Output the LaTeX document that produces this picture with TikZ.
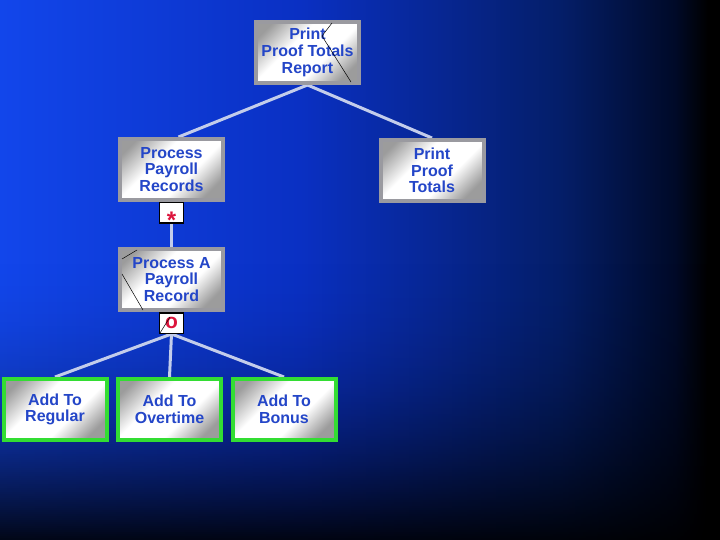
\documentclass[tikz,border=0pt]{standalone}
\usepackage{fontspec}
\setmainfont{Liberation Sans}
\usetikzlibrary{positioning,backgrounds}
\definecolor{bga}{HTML}{1246EB}
\definecolor{bgb}{HTML}{0A30C3}
\definecolor{bgc}{HTML}{041E69}
\definecolor{bgd}{HTML}{000A28}
\definecolor{txtblue}{HTML}{2446C8}
\definecolor{edge}{HTML}{9A9AA0}
\definecolor{boxgray}{HTML}{9C9C9C}
\definecolor{leafgreen}{HTML}{33DD33}
\definecolor{tagred}{HTML}{DC143C}
\definecolor{linkgray}{HTML}{C3CDEB}
\pgfdeclarehorizontalshading{bgsweep}{540pt}{color(0pt)=(bga); color(300pt)=(bgb);
  color(560pt)=(bgc); color(675pt)=(bgd); color(708pt)=(black); color(720pt)=(black)}
\pgfdeclareverticalshading{sheen}{100bp}{color(0bp)=(boxgray); color(24bp)=(boxgray);
  color(40bp)=(white); color(60bp)=(white); color(78bp)=(boxgray); color(100bp)=(boxgray)}
\tikzset{
  proc/.style={rectangle, draw=edge, line width=4pt, shading=sheen, shading angle=45,
               minimum width=103pt, minimum height=61pt, inner sep=0pt,
               align=center, text=txtblue,
               font=\bfseries\fontsize{16}{16.7}\selectfont},
  leaf/.style={proc, draw=leafgreen},
  tag/.style={rectangle, draw=black, line width=1.5pt, fill=white,
              minimum width=24pt, minimum height=20.5pt, inner sep=0pt,
              text=tagred, font=\bfseries\fontsize{21}{21}\selectfont},
  link/.style={draw=linkgray, line width=3pt},
  scratch/.style={draw=black, line width=0.5pt}
}
\begin{document}
\begin{tikzpicture}[x=1pt, y=-1pt]
\useasboundingbox (0,0) rectangle (720,540);
\node[proc] (top) at (307.5,52.5) {Print\\Proof Totals\\Report};
\node[proc] (ppr) at (171.5,169.5) {Process\\Payroll\\Records};
\node[proc] (ppt) at (432,170.5) {Print\\Proof\\Totals};
\node[tag, below=0pt of ppr] (rep) {\smash{\raisebox{-16pt}{\fontsize{24}{24}\selectfont *}}};
\node[proc, below=23pt of rep] (one) {Process A\\Payroll\\Record};
\node[tag, below=0pt of one] (sel) {o};
\node[leaf] (reg) at (55,409.5) {Add To\\Regular};
\node[leaf, right=7.5pt of reg] (ovt) {Add To\\Overtime};
\node[leaf, right=7.5pt of ovt] (bon) {Add To\\Bonus};
\begin{scope}[on background layer]
  \node[inner sep=0pt, outer sep=0pt, anchor=north west] (bg) at (0,0)
    {\pgfuseshading{bgsweep}};
  % darker towards the bottom
  \foreach \y [evaluate=\y as \op using {0.9*((\y+1-250)/290)^2}]
    in {250,252,...,538}
    \fill[black, opacity=\op] (0,\y) rectangle (720,\y+2);
  \draw[link] (top.south) -- ([xshift=7pt]ppr.north);
  \draw[link] (top.south) -- (ppt.north);
  \draw[link] (rep.south) -- (one.north);
  \draw[link] (sel.south) -- (reg.north);
  \draw[link] (sel.south) -- (ovt.north);
  \draw[link] (sel.south) -- (bon.north);
\end{scope}
% stray pen marks
\draw[scratch] (332,23) -- (322,36) -- (351,82);
\draw[scratch] (137,250) -- (122,259);
\draw[scratch] (122,274) -- (143,310);
\draw[scratch] (160,333) -- (170,317);
\end{tikzpicture}
\end{document}
